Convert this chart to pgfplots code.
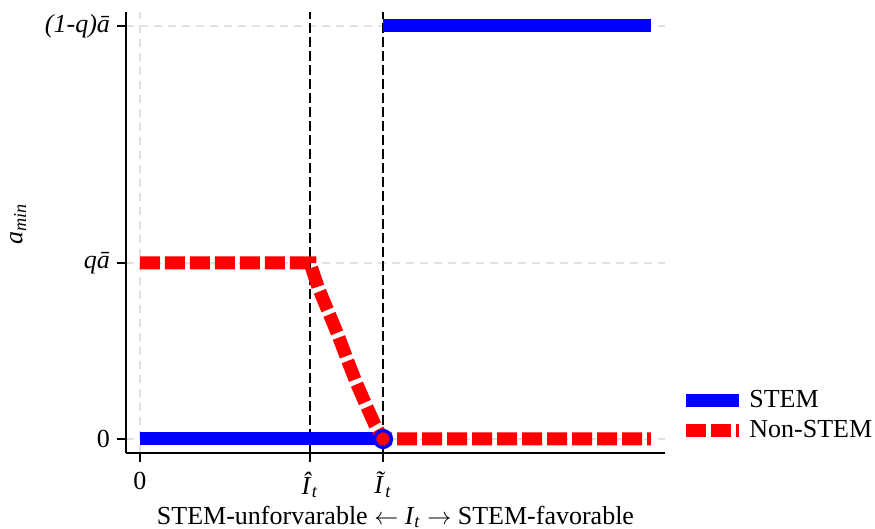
\documentclass[border=0pt]{standalone}
\usepackage{fontspec}
\setmainfont{Liberation Serif}
\usepackage{pgfplots}
\pgfplotsset{compat=1.18}
\definecolor{gridgray}{RGB}{225,225,225}
\begin{document}
\begin{tikzpicture}[font=\fontsize{13}{15.6}\selectfont]
\useasboundingbox (-63pt,-38pt) rectangle (374.5pt,226.5pt);
\begin{axis}[
  at={(0pt,0pt)}, anchor=south west,
  scale only axis,
  width=269.5pt, height=220.5pt,
  xmin=-14, xmax=525, ymin=-14, ymax=427,
  axis x line*=bottom, axis y line*=left,
  axis line style={line width=0.8pt},
  xtick={0,170,243},
  xticklabels={0, \textit{Î}\textsubscript{\textit{t}}, \textit{Ĩ}\textsubscript{\textit{t}}},
  ytick={0,176,413},
  yticklabels={0, \textit{qā}, \textit{(1-q)ā}},
  xticklabel style={yshift=-4.3pt, inner sep=0.5pt},
  tick align=outside,
  major tick length=4.5pt,
  tick style={black, line width=0.8pt},
  grid=major,
  major grid style={gridgray, line width=0.6pt, dash pattern=on 4pt off 3pt},
  xlabel={STEM-unforvarable~$\leftarrow$~\textit{I}\textsubscript{\textit{t}}~$\rightarrow$~STEM-favorable},
  ylabel={\textit{a}\textsubscript{\textit{min}}},
  xlabel style={at={(axis description cs:0.5,0)}, yshift=-32pt, anchor=center, inner sep=0.5pt},
  ylabel style={at={(axis description cs:-0.2,0.52)}, anchor=center},
  legend style={draw=none, fill=none, at={(rel axis cs:1,0)}, anchor=south west, xshift=4pt, yshift=2pt, row sep=1pt},
  legend cell align=left,
  legend image code/.code={\draw[#1] (0pt,0pt) -- (26.5pt,0pt);},
  clip=false,
]
% vertical dashed reference lines
\addplot[black, line width=1pt, dash pattern=on 5pt off 2pt, forget plot] coordinates {(170,-14) (170,427)};
\addplot[black, line width=1pt, dash pattern=on 5pt off 2pt, forget plot] coordinates {(243,-14) (243,427)};
% STEM
\addplot[blue, line width=6.5pt] coordinates {(0,0) (243,0)};
\addlegendentry{STEM}
% Non-STEM
\addplot[red, line width=6.5pt, dash pattern=on 10pt off 2.5pt] coordinates {
(0,176) (170,176) (178,152) (188,128) (198,104) (207,80) (216,57) (226,34) (235,14) (243,0) (511,0)};
\addlegendentry{Non-STEM}
\addplot[blue, line width=6.5pt, forget plot] coordinates {(243,413) (511,413)};
\addplot[blue, only marks, mark=o, mark size=4.2pt, mark options={line width=1.7pt}, forget plot] coordinates {(243,0)};
\end{axis}
\end{tikzpicture}
\end{document}
